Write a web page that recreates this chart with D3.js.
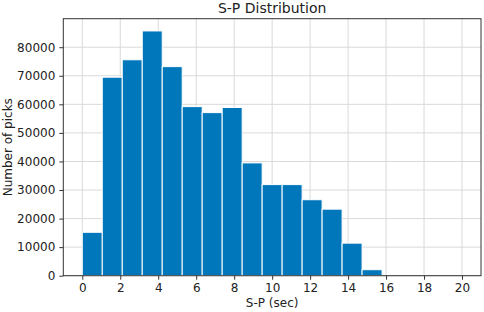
<!DOCTYPE html>
<html>
<head>
<meta charset="utf-8">
<script src="https://cdn.jsdelivr.net/npm/d3@7"></script>
<style>
  body { margin: 0; background: #fff; }
  text { font-family: "DejaVu Sans", sans-serif; fill: #222; }
</style>
</head>
<body>
<script>
// histogram of S-P times, 19 equal bins over [0, 20]
const binStart = 0
const binEnd = 20
const counts = [15200, 69500, 75600, 85700, 73200, 59200, 57100, 58900, 39500,
  31900, 31900, 26600, 23300, 11400, 2100, 0, 0, 0, 0]
const xTicks = [0, 2, 4, 6, 8, 10, 12, 14, 16, 18, 20]
const yTicks = [0, 10000, 20000, 30000, 40000, 50000, 60000, 70000, 80000]

const W = 484, H = 312
const margin = { top: 18.7, right: 3, bottom: 36.3, left: 63.3 }
const width = W - margin.left - margin.right
const height = H - margin.top - margin.bottom

const binW = (binEnd - binStart) / counts.length
const bins = counts.map((c, i) => ({ x0: binStart + i * binW, x1: binStart + (i + 1) * binW, c }))

const pad = (binEnd - binStart) * 0.05
const x = d3.scaleLinear().domain([binStart - pad, binEnd + pad]).range([0, width])
const y = d3.scaleLinear().domain([0, d3.max(counts) * 1.05]).range([height, 0])

const svg = d3.select('body').append('svg')
  .attr('width', W)
  .attr('height', H)
const g = svg.append('g')
  .attr('transform', `translate(${margin.left},${margin.top})`)

// grid
g.append('g').selectAll('line').data(xTicks).join('line')
  .attr('x1', d => x(d)).attr('x2', d => x(d))
  .attr('y1', 0).attr('y2', height)
  .style('stroke', '#d9d9d9').style('stroke-width', 1)
g.append('g').selectAll('line').data(yTicks).join('line')
  .attr('x1', 0).attr('x2', width)
  .attr('y1', d => y(d)).attr('y2', d => y(d))
  .style('stroke', '#d9d9d9').style('stroke-width', 1)

// bars
g.append('g').selectAll('rect').data(bins.filter(b => b.c > 0)).join('rect')
  .attr('x', d => x(d.x0))
  .attr('width', d => x(d.x1) - x(d.x0))
  .attr('y', d => y(d.c))
  .attr('height', d => height - y(d.c))
  .style('fill', '#0077bb')
  .style('stroke', '#fff')
  .style('stroke-width', 1)

// axes
const xAxis = g.append('g')
  .attr('transform', `translate(0,${height})`)
  .call(d3.axisBottom(x).tickValues(xTicks).tickSize(4).tickPadding(4))
const yAxis = g.append('g')
  .call(d3.axisLeft(y).tickValues(yTicks).tickFormat(d3.format('d')).tickSize(4).tickPadding(4))
;[xAxis, yAxis].forEach(a => {
  a.select('.domain').remove()
  a.selectAll('line').style('stroke', '#333')
  a.selectAll('text').style('font-size', '12px').style('fill', '#222')
    .style('font-family', '"DejaVu Sans", sans-serif')
})

// frame
g.append('rect')
  .attr('width', width).attr('height', height)
  .style('fill', 'none').style('stroke', '#333').style('stroke-width', 1)

svg.append('text')
  .attr('x', margin.left + width / 2).attr('y', 13)
  .attr('text-anchor', 'middle')
  .style('font-size', '14px')
  .text('S-P Distribution')

svg.append('text')
  .attr('x', margin.left + width / 2).attr('y', 307)
  .attr('text-anchor', 'middle')
  .style('font-size', '12px')
  .text('S-P (sec)')

svg.append('text')
  .attr('transform', `translate(12,${margin.top + height / 2}) rotate(-90)`)
  .attr('text-anchor', 'middle')
  .style('font-size', '12px')
  .text('Number of picks')
</script>
</body>
</html>
